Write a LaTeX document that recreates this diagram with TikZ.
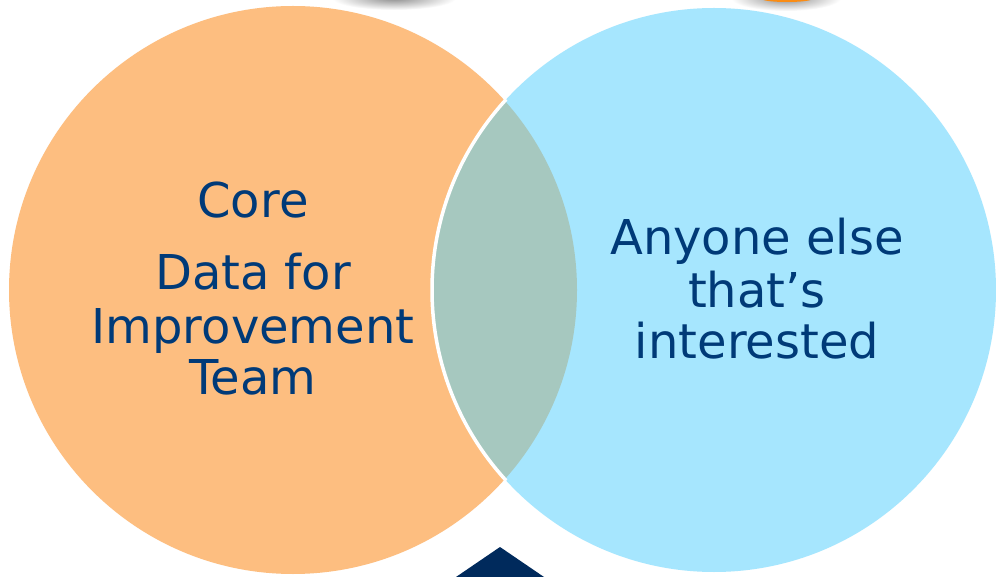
\documentclass[tikz,border=0pt]{standalone}
\usepackage{fontspec}
\setmainfont{DejaVu Sans}
\definecolor{vorange}{RGB}{253,190,128}
\definecolor{vblue}{RGB}{166,230,254}
\definecolor{vlens}{RGB}{166,200,191}
\definecolor{vtext}{RGB}{0,58,120}
\definecolor{vnavy}{RGB}{0,42,92}
\definecolor{vtoporange}{RGB}{250,140,20}
\begin{document}
\begin{tikzpicture}[x=1pt,y=1pt,
  lbl/.style={anchor=base,inner sep=0pt,text=vtext,font=\fontsize{48}{52}\selectfont}]
\useasboundingbox (0,0) rectangle (996,-577);
\fill[white] (0,0) rectangle (996,-577);
% top shadows
\shade[inner color=black!45,outer color=white] (394,2) ellipse [x radius=62,y radius=12];
\shade[inner color=black!45,outer color=white] (786,2) ellipse [x radius=55,y radius=13];
\fill[vtoporange] (787,1) ellipse [x radius=25,y radius=3];
% circles
\coordinate (co) at (293,-290);
\coordinate (cb) at (714,-290);
\fill[vorange] (co) circle[radius=284];
\fill[vblue] (cb) circle[radius=282];
\begin{scope}
  \clip (co) circle[radius=284];
  \fill[vlens] (cb) circle[radius=282];
\end{scope}
\begin{scope}
  \clip (co) circle[radius=286];
  \draw[white,line width=3.5] (cb) circle[radius=282];
\end{scope}
% triangle
\coordinate (tA) at (500,-547);
\coordinate (tB) at (456,-577);
\coordinate (tC) at (544,-577);
\fill[vnavy] (tA) -- (tB) -- (tC) -- cycle;
% texts
\node[lbl] (core) at (253,-218) {Core};
\node[lbl] (data) at (253,-290) {Data for};
\node[lbl] (impr) at (253,-343) {Improvement};
\node[lbl] (team) at (253,-394) {Team};
\node[lbl] (any) at (757,-255) {Anyone else};
\node[lbl] (that) at (757,-308) {that’s};
\node[lbl] (intr) at (757,-358) {interested};
\end{tikzpicture}
\end{document}
